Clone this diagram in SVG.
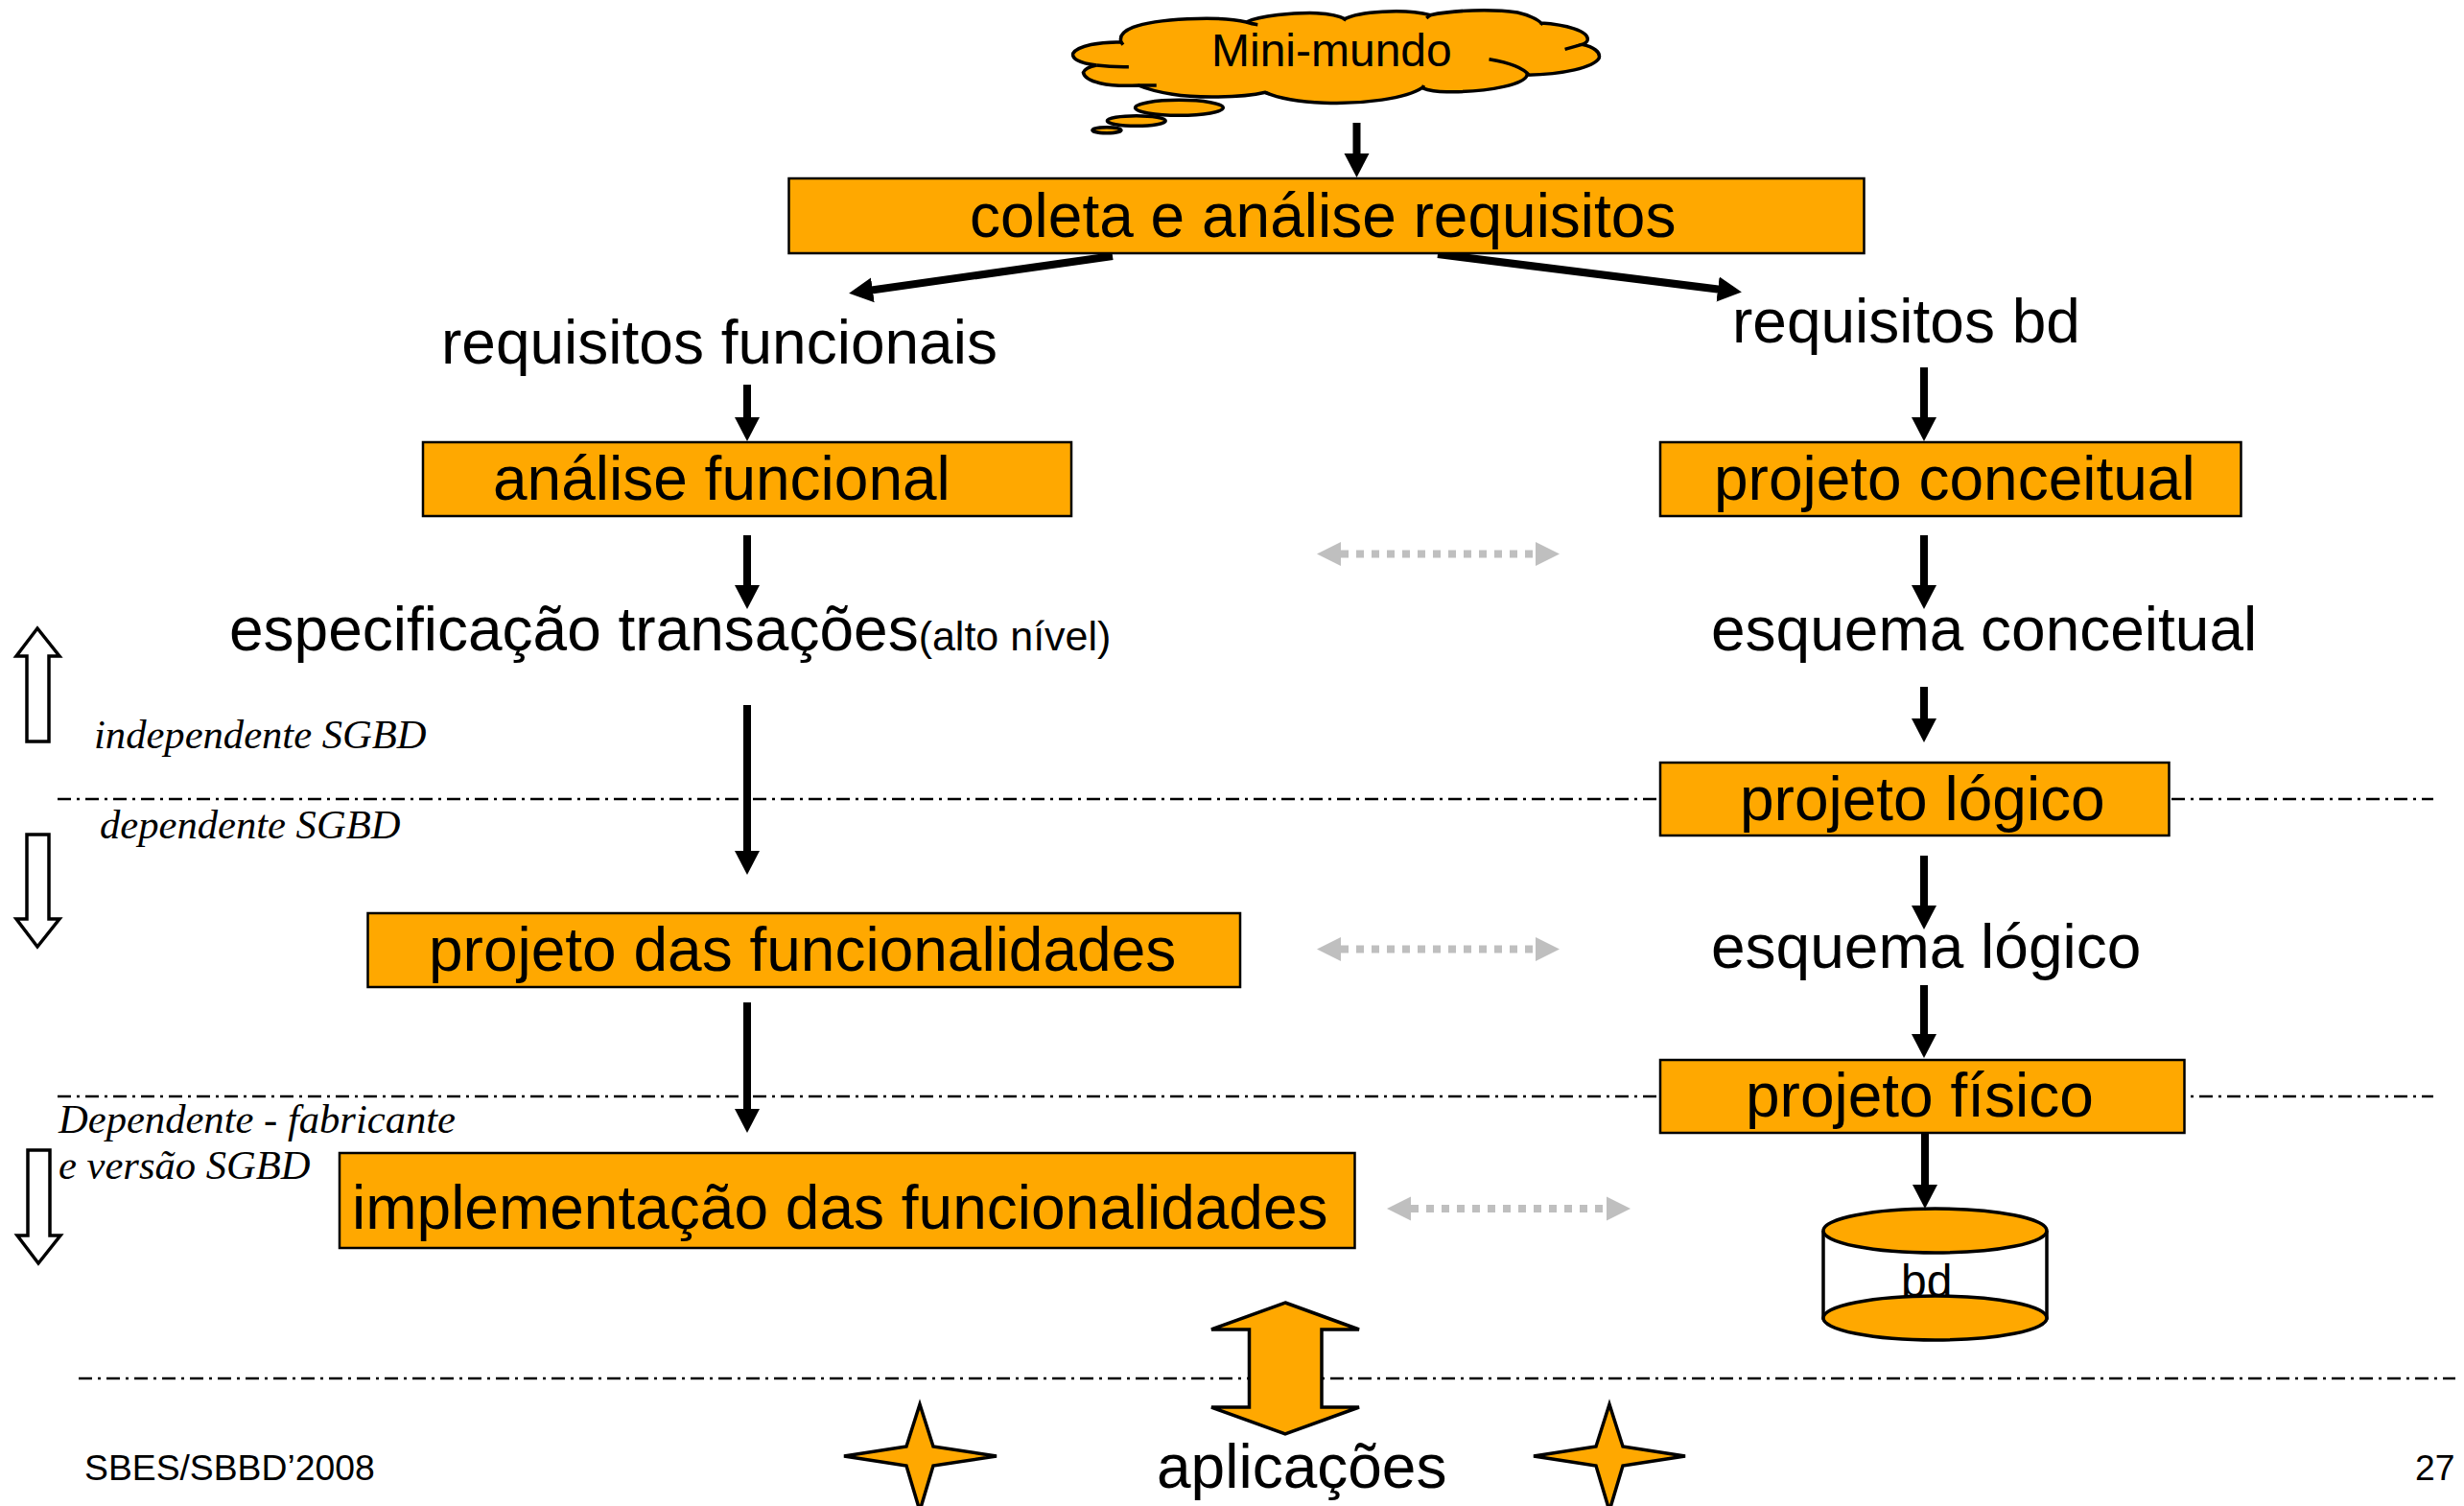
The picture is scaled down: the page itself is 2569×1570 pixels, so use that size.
<svg xmlns="http://www.w3.org/2000/svg" width="2569" height="1570" viewBox="0 0 2569 1570">
<style>
.box{fill:#ffa800;stroke:#000;stroke-width:2.5}
.o{fill:#ffa800;stroke:#000;stroke-width:3.5}
.t{font-family:"Liberation Sans",Arial,sans-serif;font-size:64px;fill:#000}
.s{font-family:"Liberation Sans",Arial,sans-serif;font-size:37.300px;fill:#000}
.i{font-family:"Liberation Serif","Times New Roman",serif;font-style:italic;font-size:42.600px;fill:#000}
.a{stroke:#000;stroke-width:8;fill:none;marker-end:url(#ah)}
.g{stroke:#bfbfbf;stroke-width:8;stroke-dasharray:8 8;fill:none}
.d{stroke:#000;stroke-width:2.500;stroke-dasharray:14 6 3 6;fill:none}
.h{fill:#fff;stroke:#000;stroke-width:3.500}
</style>
<defs>
<marker id="ah" markerUnits="userSpaceOnUse" markerWidth="28" markerHeight="28" refX="12" refY="14" orient="auto"><path d="M0,1L25,14L0,27Z" fill="#000"/></marker>
<path id="gh" d="M-25,0L0,-12.500V12.500Z" fill="#bfbfbf"/>
</defs>
<g id="dividers">
<path class="d" d="M60,833H2537"/>
<path class="d" d="M60,1143H2537"/>
<path class="d" d="M82,1437H2560"/>
</g>
<g id="connectors">
<path class="a" d="M1414.500,128V172"/>
<path class="a" d="M1160,267L898,304"/>
<path class="a" d="M1499,265L1803,303"/>
<path class="a" d="M779,401V447"/>
<path class="a" d="M2006,383V447"/>
<path class="a" d="M779,558V622"/>
<path class="a" d="M2006,558V622"/>
<path class="a" d="M2006,716V761"/>
<path class="a" d="M779,735V899"/>
<path class="a" d="M2006,892V956"/>
<path class="a" d="M2006,1027V1090"/>
<path class="a" d="M779,1045V1168"/>
<path class="a" d="M2007,1182V1247"/>
<g id="link-1"><path class="g" d="M1398,577.500H1601"/><use href="#gh" x="1398" y="577.500"/><use href="#gh" transform="translate(1601,577.500) scale(-1,1)"/></g>
<g id="link-2"><path class="g" d="M1398,989.500H1601"/><use href="#gh" x="1398" y="989.500"/><use href="#gh" transform="translate(1601,989.500) scale(-1,1)"/></g>
<g id="link-3"><path class="g" d="M1471,1260H1674"/><use href="#gh" x="1471" y="1260"/><use href="#gh" transform="translate(1675,1260) scale(-1,1)"/></g>
</g>
<g id="mini-mundo">
<g transform="translate(1080,-1) scale(0.3954,0.3333)" fill="#ffa800" stroke="#000" stroke-width="3.500">
<path vector-effect="non-scaling-stroke" d="M225,135C215,100 260,70 400,62C470,58 520,62 555,72C590,52 680,42 740,44C770,46 800,52 815,62C850,40 970,28 1040,50C1100,35 1200,30 1270,42C1300,50 1325,65 1332,75C1400,80 1455,100 1455,125C1455,135 1445,140 1440,142C1470,150 1490,165 1485,185C1470,215 1390,235 1295,238C1290,265 1200,290 1100,290C1070,292 1040,288 1018,278C980,310 860,330 760,325C700,322 640,310 605,292C540,310 420,310 360,298C320,290 290,280 270,270C190,275 130,260 125,230C128,220 140,212 160,207C110,200 95,185 98,170C110,145 170,133 225,135Z"/>
<path vector-effect="non-scaling-stroke" fill="none" d="M225,135L230,143M160,207Q200,213 245,212M270,270L318,270M555,72Q570,78 585,80M815,62L812,68M1040,50L1030,60M1332,75L1337,80M1440,142L1395,157M1195,188Q1280,205 1300,238M1020,278L1023,270M605,292L615,297"/>
<ellipse vector-effect="non-scaling-stroke" cx="378" cy="340" rx="116" ry="24"/>
<ellipse vector-effect="non-scaling-stroke" cx="265" cy="381" rx="77" ry="16"/>
<ellipse vector-effect="non-scaling-stroke" cx="187" cy="410" rx="38" ry="9"/>
</g>
<text class="t" style="font-size:48px" x="1263" y="69">Mini-mundo</text>
</g>
<g id="coleta"><rect class="box" x="822.500" y="186" width="1121" height="78"/><text class="t" x="1011" y="247">coleta e análise requisitos</text></g>
<g id="requisitos-funcionais"><text class="t" x="460" y="379">requisitos funcionais</text></g>
<g id="requisitos-bd"><text class="t" x="1806" y="357">requisitos bd</text></g>
<g id="analise-funcional"><rect class="box" x="441" y="461" width="676" height="77"/><text class="t" x="514" y="521">análise funcional</text></g>
<g id="projeto-conceitual"><rect class="box" x="1731" y="461" width="605.500" height="77"/><text class="t" x="1787" y="521">projeto conceitual</text></g>
<g id="especificacao"><text class="t" x="239" y="678">especificação transações<tspan style="font-size:43px">(alto nível)</tspan></text></g>
<g id="esquema-conceitual"><text class="t" x="1784" y="678">esquema conceitual</text></g>
<g id="projeto-logico"><rect class="box" x="1731" y="795" width="530.500" height="76"/><text class="t" x="1814" y="855">projeto lógico</text></g>
<g id="esquema-logico"><text class="t" x="1784" y="1009">esquema lógico</text></g>
<g id="projeto-funcionalidades"><rect class="box" x="383.500" y="952" width="909.500" height="77"/><text class="t" x="447" y="1012">projeto das funcionalidades</text></g>
<g id="projeto-fisico"><rect class="box" x="1731" y="1105" width="546.500" height="76"/><text class="t" x="1820" y="1164">projeto físico</text></g>
<g id="implementacao"><rect class="box" x="354" y="1202" width="1058.500" height="99"/><text class="t" x="367" y="1281">implementação das funcionalidades</text></g>
<g id="bd">
<path class="o" style="fill:#fff" d="M1901,1283V1374H2134V1283"/>
<text class="t" style="font-size:48px" x="1982" y="1352">bd</text>
<ellipse class="o" cx="2017.500" cy="1283" rx="116.500" ry="23"/>
<ellipse class="o" cx="2017.500" cy="1374" rx="116.500" ry="23"/>
</g>
<g id="seta-aplicacoes"><path class="o" d="M1340,1358L1417,1386H1378V1467H1417L1340,1495L1263,1467H1302.500V1386H1263Z"/></g>
<g id="estrela-1"><path class="o" d="M959,1464L973,1508L1039,1518L973,1528L959,1575L945,1528L880,1518L945,1508Z"/></g>
<g id="estrela-2"><path class="o" d="M1678,1464L1692,1508L1757,1518L1692,1528L1678,1575L1664,1528L1599,1518L1664,1508Z"/></g>
<g id="aplicacoes"><text class="t" x="1206" y="1551">aplicações</text></g>
<g id="seta-up"><path class="h" d="M39,655L62,684H51V773H28V684H17Z"/></g>
<g id="seta-down-1"><path class="h" d="M28,870H51V958H62L39,987L17,958H28Z"/></g>
<g id="seta-down-2"><path class="h" d="M29,1199H52V1288H63L40,1317L18,1288H29Z"/></g>
<text class="i" x="98" y="780">independente SGBD</text>
<text class="i" x="104" y="874">dependente SGBD</text>
<text class="i" x="61" y="1181">Dependente - fabricante</text>
<text class="i" x="61" y="1229">e versão SGBD</text>
<text class="s" x="88" y="1543">SBES/SBBD’2008</text>
<text class="s" x="2518" y="1543">27</text>
</svg>
